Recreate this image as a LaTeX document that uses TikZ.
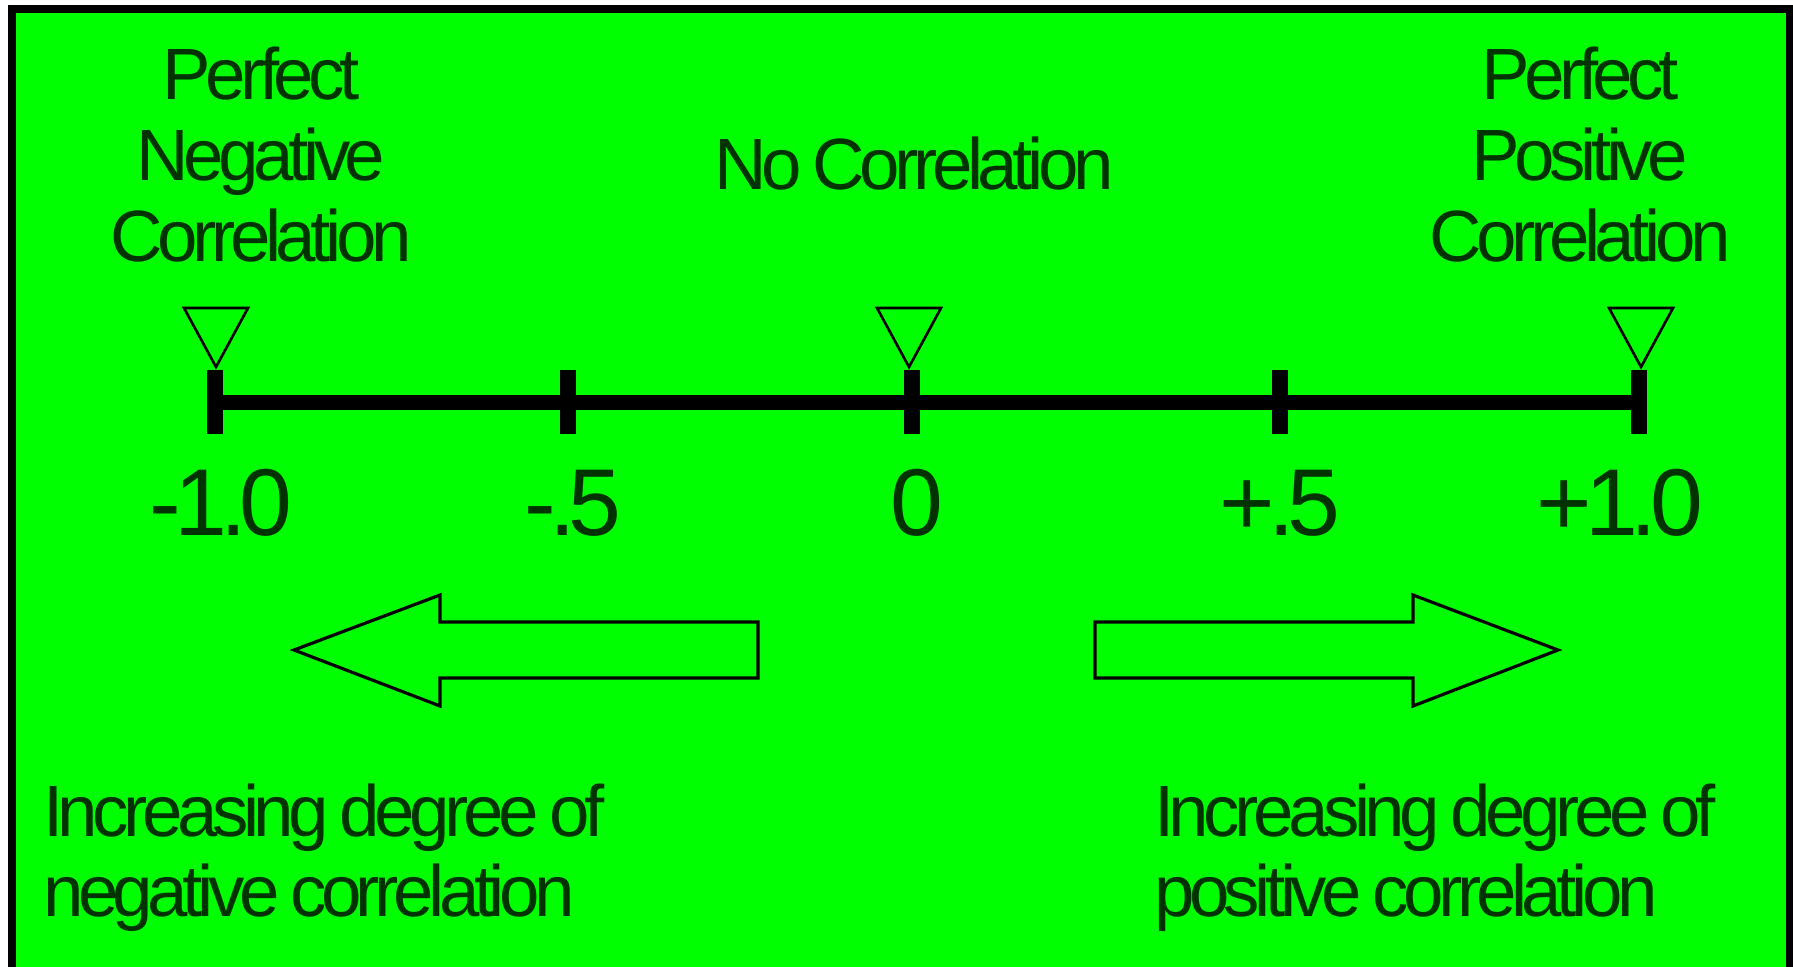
\documentclass[tikz,border=0pt]{standalone}
\usepackage{fontspec}
\newfontfamily\tightsans[LetterSpace=-7.5,WordSpace=0.72]{Liberation Sans}
\definecolor{bggreen}{RGB}{0,255,0}
\definecolor{txtgreen}{RGB}{0,51,0}
\begin{document}
\begin{tikzpicture}[x=0.01cm,y=-0.01cm,
  lbl/.style={inner sep=0pt, outer sep=0pt, anchor=base, text=txtgreen, font=\tightsans\fontsize{20.66}{23}\selectfont},
  lblleft/.style={lbl, anchor=base west},
  num/.style={lbl, font=\tightsans\fontsize{27}{30}\selectfont},
  tickmark/.style={rectangle, fill=black, inner sep=0pt, outer sep=0pt, minimum width=0.16cm, minimum height=0.64cm},
  axisline/.style={line width=4.27pt},
  marker/.style={draw=black, line width=0.75pt, line join=miter},
  bigarrow/.style={draw=black, line width=0.9pt, line join=miter}]
\fill[white] (0,0) rectangle (1793,966);
\useasboundingbox (0,0) rectangle (1793,966);
\fill[black] (8,5) rectangle (1793,980);
\fill[bggreen] (16,13) rectangle (1786,980);

% top labels
\node[lbl] (pn1) at (261,99) {Perfect};
\node[lbl] (pn2) at (261,180) {Negative};
\node[lbl] (pn3) at (261,261) {Correlation};
\node[lbl] (nc) at (914,189) {No Correlation};
\node[lbl] (pp1) at (1580,99) {Perfect};
\node[lbl] (pp2) at (1580,180) {Positive};
\node[lbl] (pp3) at (1580,261) {Correlation};

% axis with ticks
\node[tickmark] (k1) at (215,402) {};
\node[tickmark] (k2) at (568,402) {};
\node[tickmark] (k3) at (912,402) {};
\node[tickmark] (k4) at (1280,402) {};
\node[tickmark] (k5) at (1639,402) {};
\draw[axisline] (k1.center) -- (k5.center);

% markers
\draw[marker] (184,308) -- (248,308) -- (216,367) -- cycle;
\draw[marker] (877,308) -- (941,308) -- (909,367) -- cycle;
\draw[marker] (1609,308) -- (1673,308) -- (1641,367) -- cycle;

% numbers
\node[num] (n1) at (221,535) {-1.0};
\node[num] (n2) at (573,535) {-.5};
\node[num] (n3) at (917,535) {0};
\node[num] (n4) at (1280,535) {+.5};
\node[num] (n5) at (1620,535) {+1.0};

% big arrows
\draw[bigarrow] (294,650) -- (440,595) -- (440,622) -- (758,622) -- (758,678) -- (440,678) -- (440,706) -- cycle;
\draw[bigarrow] (1095,622) -- (1413,622) -- (1413,595) -- (1558,650) -- (1413,706) -- (1413,678) -- (1095,678) -- cycle;

% bottom texts
\node[lblleft] (ln1) at (43,836) {Increasing degree of};
\node[lblleft] (ln2) at (43,916) {negative correlation};
\node[lblleft] (rn1) at (1154,836) {Increasing degree of};
\node[lblleft] (rn2) at (1154,916) {positive correlation};
\end{tikzpicture}
\end{document}
